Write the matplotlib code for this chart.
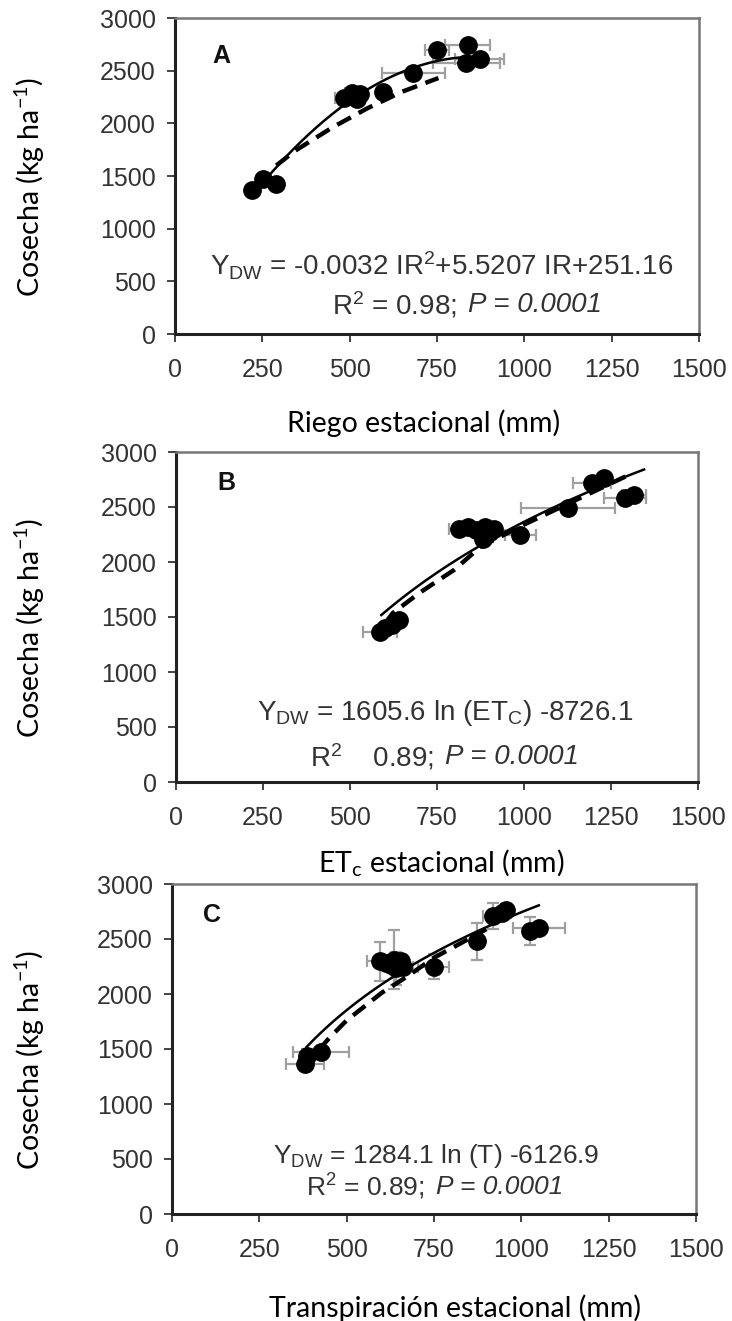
import numpy as np
import matplotlib
matplotlib.use("Agg")
import matplotlib.pyplot as plt

# Panel A: riego estacional
a_x = [220, 252, 290, 484, 508, 530, 522, 596, 682, 750, 838, 834, 872]
a_y = [1370, 1470, 1420, 2240, 2290, 2280, 2230, 2300, 2480, 2700, 2740, 2575, 2610]
a_xerr = [0, 0, 0, 25, 20, 0, 0, 0, 90, 35, 65, 95, 70]
a_coef = [-0.0032, 5.5207, 251.16]          # Y = a*IR^2 + b*IR + c
a_fit_range = [255, 872]
a_dash_x = [290, 344, 450, 549, 650, 754]
a_dash_y = [1600, 1740, 1960, 2140, 2300, 2430]

# Panel B: ETc estacional
b_x = [586, 600, 620, 640, 814, 840, 861, 887, 901, 881, 914, 989, 1126, 1196, 1229, 1290, 1316]
b_y = [1364, 1400, 1430, 1470, 2304, 2320, 2289, 2320, 2274, 2213, 2304, 2245, 2490, 2716, 2762, 2579, 2609]
b_xerr = [50, 0, 0, 0, 30, 0, 0, 0, 0, 0, 15, 45, 135, 55, 0, 60, 35]
b_coef = [1605.6, -8726.1]                  # Y = a*ln(ETc) + b
b_fit_range = [590, 1345]
b_dash_x = [600, 623, 700, 800, 874, 1000, 1100, 1200, 1300]
b_dash_y = [1440, 1536, 1720, 1930, 2136, 2340, 2490, 2640, 2790]

# Panel C: transpiracion estacional
c_x = [380, 386, 427, 594, 614, 635, 655, 661, 641, 628, 749, 872, 920, 945, 957, 1024, 1050]
c_y = [1362, 1439, 1469, 2296, 2280, 2311, 2296, 2250, 2235, 2265, 2250, 2480, 2709, 2740, 2760, 2571, 2602]
c_xerr = [55, 0, 80, 35, 0, 0, 0, 30, 0, 0, 45, 0, 30, 0, 0, 0, 75]
c_yerr = [0, 60, 0, 180, 0, 270, 0, 0, 150, 0, 115, 170, 115, 0, 60, 130, 0]
c_coef = [1284.1, -6126.9]                  # Y = a*ln(T) + b
c_fit_range = [385, 1050]
c_dash_x = [420, 450, 500, 540, 600, 672, 750, 820, 900]
c_dash_y = [1490, 1600, 1760, 1860, 2010, 2157, 2330, 2450, 2590]

xticks = [0, 250, 500, 750, 1000, 1250, 1500]
yticks = [0, 500, 1000, 1500, 2000, 2500, 3000]

TXT = '#333333'
ARIAL = ['Liberation Sans', 'DejaVu Sans']
CALIBRI = ['Lato', 'DejaVu Sans']

plt.rcParams['mathtext.fontset'] = 'custom'
plt.rcParams['mathtext.rm'] = 'Liberation Sans'
plt.rcParams['mathtext.it'] = 'Liberation Sans:italic'

fig = plt.figure(figsize=(7.32, 13.21), dpi=100)

panels = [
    dict(rect=[175/732, 1-334/1321, 524/732, 316/1321],
         x=a_x, y=a_y, xerr=a_xerr, yerr=None,
         fit='quad', coef=a_coef, rng=a_fit_range,
         dx=a_dash_x, dy=a_dash_y, letter='A', lpos=(0.072, 0.88),
         eq1=r'Y$_{\mathregular{DW}}$ = -0.0032 IR$^{\mathregular{2}}$+5.5207 IR+251.16',
         eq2a=r'R$^{\mathregular{2}}$ = 0.98;', eq2b='P = 0.0001',
         eqpos=(0.508, 0.217, 0.559, 0.091), eqsize=20,
         xlabel='Riego estacional (mm)', xlpos=(424, 423)),
    dict(rect=[176/732, 1-782/1321, 522/732, 330/1321],
         x=b_x, y=b_y, xerr=b_xerr, yerr=None,
         fit='log', coef=b_coef, rng=b_fit_range,
         dx=b_dash_x, dy=b_dash_y, letter='B', lpos=(0.08, 0.905),
         eq1=r'Y$_{\mathregular{DW}}$ = 1605.6 ln (ET$_{\mathregular{C}}$) -8726.1',
         eq2a=r'R$^{\mathregular{2}}$    0.89;', eq2b='P = 0.0001',
         eqpos=(0.516, 0.209, 0.516, 0.076), eqsize=20,
         xlabel=r'ET$_{\mathregular{c}}$ estacional (mm)', xlpos=(441, 862)),
    dict(rect=[172/732, 1-1214/1321, 524/732, 330/1321],
         x=c_x, y=c_y, xerr=c_xerr, yerr=c_yerr,
         fit='log', coef=c_coef, rng=c_fit_range,
         dx=c_dash_x, dy=c_dash_y, letter='C', lpos=(0.06, 0.905),
         eq1=r'Y$_{\mathregular{DW}}$ = 1284.1 ln (T) -6126.9',
         eq2a=r'R$^{\mathregular{2}}$ = 0.89;', eq2b='P = 0.0001',
         eqpos=(0.504, 0.176, 0.504, 0.083), eqsize=19,
         xlabel='Transpiración estacional (mm)', xlpos=(455, 1308)),
]

for p in panels:
    ax = fig.add_axes(p['rect'])
    ax.errorbar(p['x'], p['y'], xerr=p['xerr'], yerr=p['yerr'], fmt='none',
                ecolor='#a0a0a0', elinewidth=1.6, capsize=4, capthick=1.6, zorder=2)
    xs = np.linspace(p['rng'][0], p['rng'][1], 200)
    if p['fit'] == 'quad':
        ys = np.polyval(p['coef'], xs)
    else:
        ys = p['coef'][0] * np.log(xs) + p['coef'][1]
    ax.plot(xs, ys, color='black', lw=1.8, zorder=3)
    ax.plot(p['dx'], p['dy'], color='black', lw=3.2, dashes=(3.5, 2), zorder=3)
    ax.plot(p['x'], p['y'], 'o', color='black', markersize=12.5, zorder=4)

    ax.set_xlim(0, 1500)
    ax.set_ylim(0, 3000)
    ax.set_xticks(xticks)
    ax.set_yticks(yticks)
    ax.tick_params(direction='out', length=6, width=1.4, colors='#444444',
                   labelsize=18, labelcolor=TXT, pad=8)
    ax.tick_params(axis='x', pad=11)
    for lab in ax.get_xticklabels() + ax.get_yticklabels():
        lab.set_family(ARIAL)
    for s in ['left', 'bottom']:
        ax.spines[s].set_linewidth(2.2)
        ax.spines[s].set_color('#222222')
    for s in ['top', 'right']:
        ax.spines[s].set_linewidth(1.8)
        ax.spines[s].set_color('#777777')

    ax.text(p['lpos'][0], p['lpos'][1], p['letter'], transform=ax.transAxes,
            fontsize=18, fontweight='bold', family=ARIAL, color='#111111',
            ha='left', va='center')
    ex1, ey1, ex2, ey2 = p['eqpos']
    ax.text(ex1, ey1, p['eq1'], transform=ax.transAxes, ha='center', va='center',
            fontsize=p['eqsize'], family=ARIAL, color=TXT)
    ax.text(ex2 - 0.022, ey2, p['eq2a'], transform=ax.transAxes, ha='right',
            va='center', fontsize=p['eqsize'], family=ARIAL, color=TXT)
    ax.text(ex2, ey2, p['eq2b'], transform=ax.transAxes, ha='left', va='center',
            fontsize=p['eqsize'], family=ARIAL, style='italic', color=TXT)

    yc = p['rect'][1] + p['rect'][3] / 2 - 0.008
    fig.text(30/732, yc, r'Cosecha (kg ha$^{\mathregular{-1}}$)',
             rotation=90, ha='center', va='center', fontsize=20.5,
             family=CALIBRI, color='black')
    fig.text(p['xlpos'][0]/732, 1 - p['xlpos'][1]/1321, p['xlabel'],
             ha='center', va='center', fontsize=20.5, family=CALIBRI, color='black')

fig.savefig('out.png', dpi=100)
